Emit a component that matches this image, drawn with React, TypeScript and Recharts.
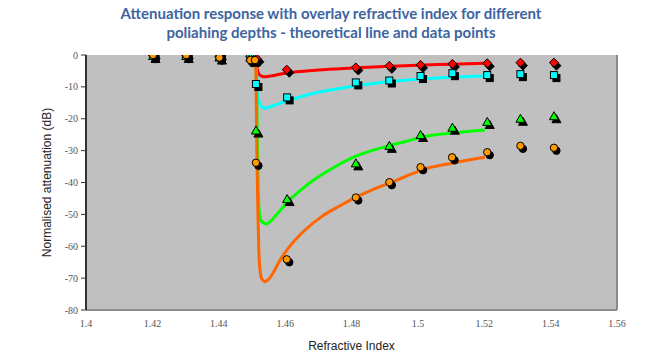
import { ComposedChart, Line, Scatter, XAxis, YAxis, CartesianGrid, ReferenceLine } from 'recharts';

const xTicks = [1.4, 1.42, 1.44, 1.46, 1.48, 1.5, 1.52, 1.54, 1.56];
const yTicks = [-80, -70, -60, -50, -40, -30, -20, -10, 0];

// measured points (refractive index, dB)
const redPoints = [
    [1.4202, -0.2], [1.4302, -0.2], [1.4402, -0.5], [1.4495, -0.5], [1.4515, -1.2],
    [1.4605, -4.6], [1.4813, -3.9], [1.4914, -3.4], [1.5008, -3.1], [1.5104, -2.8],
    [1.5209, -2.6], [1.5309, -2.4], [1.541, -2.4],
];
const cyanPoints = [
    [1.4202, 0], [1.4302, 0], [1.4402, 0], [1.4495, -0.8], [1.4512, -9.1],
    [1.4606, -13.3], [1.4813, -8.6], [1.4914, -8.0], [1.5008, -6.6], [1.5104, -5.7],
    [1.5209, -6.3], [1.5309, -6.0], [1.541, -6.3],
];
const greenPoints = [
    [1.4202, -0.3], [1.4302, -0.3], [1.4402, -0.8], [1.4495, -0.8], [1.4512, -23.7],
    [1.4606, -45.2], [1.4813, -34.0], [1.4914, -28.5], [1.5008, -25.1], [1.5104, -22.8],
    [1.5209, -21.0], [1.5309, -20.0], [1.541, -19.2],
];
const orangePoints = [
    [1.4202, 0], [1.4302, 0], [1.4402, -0.8], [1.4495, -1.6], [1.4509, -1.6],
    [1.4512, -33.8], [1.4605, -64.1], [1.4813, -44.7], [1.4914, -39.9], [1.5008, -35.2],
    [1.5103, -32.1], [1.5209, -30.5], [1.5309, -28.5], [1.541, -29.1],
];

// theoretical curves
const redTheory = [
    [1.4508, -0.2], [1.4513, -2], [1.4516, -4.5], [1.452, -5.8], [1.4527, -6.5],
    [1.4536, -6.8], [1.455, -6.7], [1.46, -5.7], [1.47, -4.7], [1.48, -4.1],
    [1.49, -3.6], [1.5, -3.2], [1.51, -2.9], [1.52, -2.6],
];
const cyanTheory = [
    [1.4508, -0.3], [1.4513, -4], [1.4516, -10], [1.452, -14], [1.4527, -16],
    [1.4536, -16.7], [1.455, -16.4], [1.457, -15.7], [1.46, -14.6], [1.465, -13],
    [1.47, -11.7], [1.48, -9.9], [1.49, -8.5], [1.5, -7.6], [1.51, -7.0], [1.52, -6.6],
];
const greenTheory = [
    [1.4508, -0.3], [1.4513, -5], [1.4516, -25], [1.4519, -42], [1.4522, -49],
    [1.4528, -52], [1.4544, -53], [1.4555, -52.3], [1.4569, -50.7], [1.4609, -46],
    [1.466, -41.3], [1.471, -37.6], [1.476, -34.5], [1.481, -31.9], [1.4861, -30],
    [1.4911, -28.5], [1.4961, -27.2], [1.5011, -25.8], [1.5111, -24.4], [1.5202, -23.5],
];
const orangeTheory = [
    [1.4508, -0.3], [1.4512, -5], [1.4514, -25], [1.4518, -50], [1.4521, -62],
    [1.4525, -68], [1.453, -70.3], [1.4539, -71.1], [1.455, -70.4], [1.4569, -67.4],
    [1.4579, -65.4], [1.4609, -60.7], [1.466, -54.9], [1.471, -50.7], [1.476, -47.6],
    [1.481, -44.8], [1.4861, -42.4], [1.4911, -40.3], [1.4961, -38.2], [1.5011, -36.1],
    [1.5111, -33.8], [1.5202, -32.1],
];

const toXY = (arr: number[][]) => arr.map(([x, y]) => ({ x, y }));

type Kind = 'diamond' | 'square' | 'triangle' | 'circle';

const drawShape = (kind: Kind, cx: number, cy: number, fill: string, stroke: string) => {
    if (kind === 'square') {
        return <rect x={cx - 3.5} y={cy - 3.5} width={7} height={7} fill={fill} stroke={stroke} strokeWidth={1} />;
    }
    if (kind === 'circle') {
        return <circle cx={cx} cy={cy} r={3.7} fill={fill} stroke={stroke} strokeWidth={1} />;
    }
    if (kind === 'diamond') {
        return <path d={`M${cx},${cy - 4.5}L${cx + 4.5},${cy}L${cx},${cy + 4.5}L${cx - 4.5},${cy}Z`} fill={fill} stroke={stroke} strokeWidth={1} />;
    }
    return <path d={`M${cx},${cy - 4.5}L${cx + 4.5},${cy + 3.5}L${cx - 4.5},${cy + 3.5}Z`} fill={fill} stroke={stroke} strokeWidth={1} />;
};

const markerShape = (kind: Kind, fill: string) => (props: any) => {
    const { cx, cy } = props;
    if (cx == null || cy == null) return <g />;
    return (
        <g>
            {drawShape(kind, cx + 2.5, cy + 3, '#000', '#000')}
            {drawShape(kind, cx, cy, fill, '#000')}
        </g>
    );
};

const tickStyle = { fontFamily: '"Liberation Serif", serif', fontSize: 10, fill: '#555' };

export default function App() {
    return (
        <div style={{ position: 'relative', width: 656, height: 356, background: '#fff' }}>
            <style>{`body { margin: 0; }`}</style>
            <div
                style={{
                    position: 'absolute', top: 4, left: 0, width: 662, textAlign: 'center',
                    fontFamily: 'Lato, sans-serif', fontWeight: 700, fontSize: 15, lineHeight: '19px',
                    color: '#3D64A0',
                }}
            >
                Attenuation response with overlay refractive index for different
                <br />
                poliahing depths - theoretical line and data points
            </div>
            <ComposedChart width={656} height={356} margin={{ top: 55, right: 39, bottom: 0, left: 0 }}>
                <CartesianGrid fill="#C0C0C0" horizontal={false} vertical={false} />
                <XAxis
                    xAxisId="top"
                    orientation="top"
                    type="number"
                    dataKey="x"
                    domain={[1.4, 1.56]}
                    ticks={xTicks}
                    allowDataOverflow
                    height={0}
                    tick={() => <g />}
                    tickSize={3}
                    tickLine={{ stroke: '#333' }}
                    axisLine={{ stroke: '#444', strokeWidth: 2 }}
                />
                <XAxis
                    type="number"
                    dataKey="x"
                    domain={[1.4, 1.56]}
                    ticks={xTicks}
                    allowDataOverflow
                    height={46}
                    tickLine={false}
                    tickMargin={4}
                    tick={tickStyle}
                    axisLine={{ stroke: '#8C8C8C', strokeWidth: 2 }}
                    label={{
                        value: 'Refractive Index', position: 'insideBottom', offset: 6,
                        style: { fontFamily: '"Liberation Sans", Arial, sans-serif', fontSize: 12, fill: '#222' },
                    }}
                />
                <YAxis
                    type="number"
                    dataKey="y"
                    domain={[-80, 0]}
                    ticks={yTicks}
                    allowDataOverflow
                    width={86}
                    tickSize={5}
                    tickMargin={3}
                    tick={tickStyle}
                    tickLine={{ stroke: '#333' }}
                    axisLine={{ stroke: '#333', strokeWidth: 2 }}
                    label={{
                        value: 'Normalised attenuation (dB)', angle: -90, position: 'insideLeft', offset: 47,
                        style: { textAnchor: 'middle', fontFamily: '"Liberation Sans", Arial, sans-serif', fontSize: 12, fill: '#222' },
                    }}
                />
                <ReferenceLine x={1.56} stroke="#8C8C8C" strokeWidth={2} />

                <Line data={toXY(redTheory)} dataKey="y" type="monotone" stroke="#FF0000" strokeWidth={3} dot={false} isAnimationActive={false} />
                <Line data={toXY(cyanTheory)} dataKey="y" type="monotone" stroke="#00FFFF" strokeWidth={3} dot={false} isAnimationActive={false} />
                <Line data={toXY(greenTheory)} dataKey="y" type="monotone" stroke="#00FF00" strokeWidth={3} dot={false} isAnimationActive={false} />
                <Line data={toXY(orangeTheory)} dataKey="y" type="monotone" stroke="#FF6600" strokeWidth={3} dot={false} isAnimationActive={false} />

                <Scatter data={toXY(redPoints)} dataKey="y" shape={markerShape('diamond', '#FF0000')} isAnimationActive={false} />
                <Scatter data={toXY(cyanPoints)} dataKey="y" shape={markerShape('square', '#00FFFF')} isAnimationActive={false} />
                <Scatter data={toXY(greenPoints)} dataKey="y" shape={markerShape('triangle', '#00FF00')} isAnimationActive={false} />
                <Scatter data={toXY(orangePoints)} dataKey="y" shape={markerShape('circle', '#FF9900')} isAnimationActive={false} />
            </ComposedChart>
        </div>
    );
}
